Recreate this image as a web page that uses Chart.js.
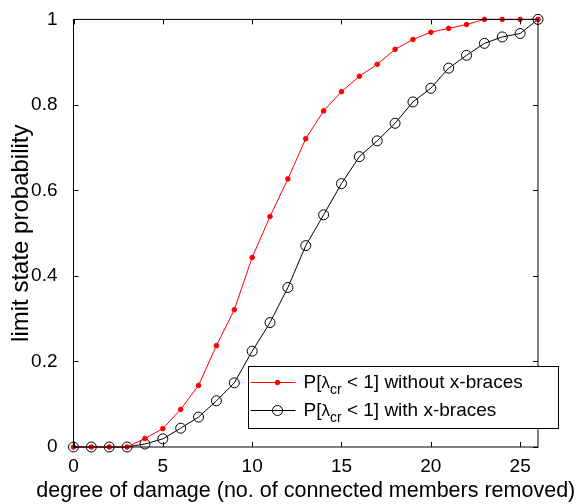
<!DOCTYPE html>
<html>
<head>
<meta charset="utf-8">
<script src="https://cdn.jsdelivr.net/npm/chart.js@4"></script>
<style>
  html, body { margin: 0; padding: 0; background: #fff; }
</style>
</head>
<body>
<canvas id="damageChart" width="584" height="504"></canvas>
<script>
const damage = [0, 1, 2, 3, 4, 5, 6, 7, 8, 9, 10, 11, 12, 13, 14, 15, 16, 17, 18, 19, 20, 21, 22, 23, 24, 25, 26];
const probNoBraces = [0, 0, 0, 0, 0.02, 0.043, 0.088, 0.144, 0.237, 0.321, 0.443, 0.539, 0.627, 0.721, 0.786, 0.831, 0.867, 0.895, 0.930, 0.953, 0.970, 0.979, 0.988, 1, 1, 1, 1];
const probWithBraces = [0, 0, 0, 0, 0.007, 0.019, 0.044, 0.070, 0.108, 0.150, 0.224, 0.291, 0.373, 0.471, 0.543, 0.616, 0.679, 0.716, 0.757, 0.807, 0.839, 0.886, 0.916, 0.944, 0.959, 0.967, 1];
const xTicks = [0, 5, 10, 15, 20, 25];
const yTicks = [0, 0.2, 0.4, 0.6, 0.8, 1];
const yTickLabels = ['0', '0.2', '0.4', '0.6', '0.8', '1'];
const legendLabels = ['without x-braces', 'with x-braces'];
const xTitle = 'degree of damage (no. of connected members removed)';

const FONT = 'Liberation Sans, Arial, sans-serif';

// box + inward ticks on all four sides (matlab style)
// x title drawn here too: chart.js squeezes axis titles to the axis width
const framePlugin = {
     id: 'frame',
     afterDraw(chart) {
          const { ctx, chartArea: a, scales } = chart;
          const len = 5;
          ctx.save();
          ctx.strokeStyle = '#000';
          ctx.lineWidth = 1;
          ctx.strokeRect(a.left, a.top, a.right - a.left, a.bottom - a.top);
          ctx.beginPath();
          xTicks.forEach(v => {
               const px = Math.round(scales.x.getPixelForValue(v)) + 0.5;
               ctx.moveTo(px, a.bottom); ctx.lineTo(px, a.bottom - len);
               ctx.moveTo(px, a.top); ctx.lineTo(px, a.top + len);
          });
          yTicks.forEach(v => {
               const py = Math.round(scales.y.getPixelForValue(v)) + 0.5;
               ctx.moveTo(a.left, py); ctx.lineTo(a.left + len, py);
               ctx.moveTo(a.right, py); ctx.lineTo(a.right - len, py);
          });
          ctx.stroke();

          ctx.fillStyle = '#000';
          ctx.font = `21.5px ${FONT}`;
          ctx.textAlign = 'center';
          ctx.textBaseline = 'alphabetic';
          ctx.fillText(xTitle, (a.left + a.right) / 2, 497);
          ctx.restore();
     }
};

// legend with the lambda_cr subscript, sits over the right axis like the original
const legendPlugin = {
     id: 'lambdaLegend',
     afterDraw(chart) {
          const ctx = chart.ctx;
          const box = { x: 248.5, y: 366.5, w: 310, h: 62 };
          ctx.save();
          ctx.fillStyle = '#fff';
          ctx.fillRect(box.x, box.y, box.w, box.h);
          ctx.strokeStyle = '#000';
          ctx.lineWidth = 1;
          ctx.strokeRect(box.x, box.y, box.w, box.h);

          chart.data.datasets.forEach((ds, i) => {
               const cy = box.y + 16 + i * 28;
               ctx.strokeStyle = ds.borderColor;
               ctx.beginPath();
               ctx.moveTo(box.x + 2, cy);
               ctx.lineTo(box.x + 47, cy);
               ctx.stroke();
               ctx.beginPath();
               ctx.arc(box.x + 29, cy, ds.pointRadius, 0, Math.PI * 2);
               if (ds.pointBackgroundColor !== 'transparent') {
                    ctx.fillStyle = ds.pointBackgroundColor;
                    ctx.fill();
               }
               ctx.stroke();

               let tx = box.x + 55;
               const base = cy + 5;
               ctx.fillStyle = '#000';
               ctx.textBaseline = 'alphabetic';
               ctx.font = `19px ${FONT}`;
               ctx.fillText('P[', tx, base);
               tx += ctx.measureText('P[').width;
               ctx.font = `17px ${FONT}`;
               ctx.fillText('\u03bb', tx, base);
               tx += ctx.measureText('\u03bb').width;
               ctx.font = `14px ${FONT}`;
               ctx.fillText('cr', tx, base + 6);
               tx += ctx.measureText('cr').width;
               ctx.font = `19px ${FONT}`;
               ctx.fillText(' < 1] ' + legendLabels[i], tx, base);
          });
          ctx.restore();
     }
};

const ctx = document.getElementById('damageChart').getContext('2d');
new Chart(ctx, {
     type: 'line',
     data: {
          datasets: [
               {
                    label: 'P[lambda_cr < 1] without x-braces',
                    data: damage.map((d, i) => ({ x: d, y: probNoBraces[i] })),
                    borderColor: '#ff0000',
                    borderWidth: 1,
                    pointRadius: 2.3,
                    pointBackgroundColor: '#ff0000',
                    pointBorderColor: '#ff0000',
                    pointBorderWidth: 1,
                    tension: 0,
                    clip: false
               },
               {
                    label: 'P[lambda_cr < 1] with x-braces',
                    data: damage.map((d, i) => ({ x: d, y: probWithBraces[i] })),
                    borderColor: '#000000',
                    borderWidth: 1,
                    pointRadius: 5,
                    pointBackgroundColor: 'transparent',
                    pointBorderColor: '#000000',
                    pointBorderWidth: 1,
                    tension: 0,
                    clip: false
               }
          ]
     },
     options: {
          responsive: false,
          animation: false,
          layout: { padding: { top: 17, right: 46, left: 0, bottom: 0 } },
          plugins: {
               legend: { display: false },
               tooltip: { enabled: false }
          },
          scales: {
               x: {
                    type: 'linear',
                    min: 0,
                    max: 26,
                    afterBuildTicks: s => { s.ticks = xTicks.map(v => ({ value: v })); },
                    afterFit: s => { s.height = 57; },
                    grid: { display: false },
                    border: { display: false },
                    ticks: { color: '#000', font: { family: FONT, size: 19 }, padding: 0, maxRotation: 0 },
                    title: { display: false }
               },
               y: {
                    type: 'linear',
                    min: 0,
                    max: 1,
                    afterBuildTicks: s => { s.ticks = yTicks.map(v => ({ value: v })); },
                    afterFit: s => { s.width = 73.5; },
                    grid: { display: false },
                    border: { display: false },
                    ticks: {
                         color: '#000',
                         font: { family: FONT, size: 19 },
                         padding: 8,
                         callback: (v, i) => yTickLabels[i]
                    },
                    title: {
                         display: true,
                         text: 'limit state probability',
                         color: '#000',
                         font: { family: FONT, size: 24 },
                         padding: { top: 7, bottom: 0 }
                    }
               }
          }
     },
     plugins: [framePlugin, legendPlugin]
});
</script>
</body>
</html>
